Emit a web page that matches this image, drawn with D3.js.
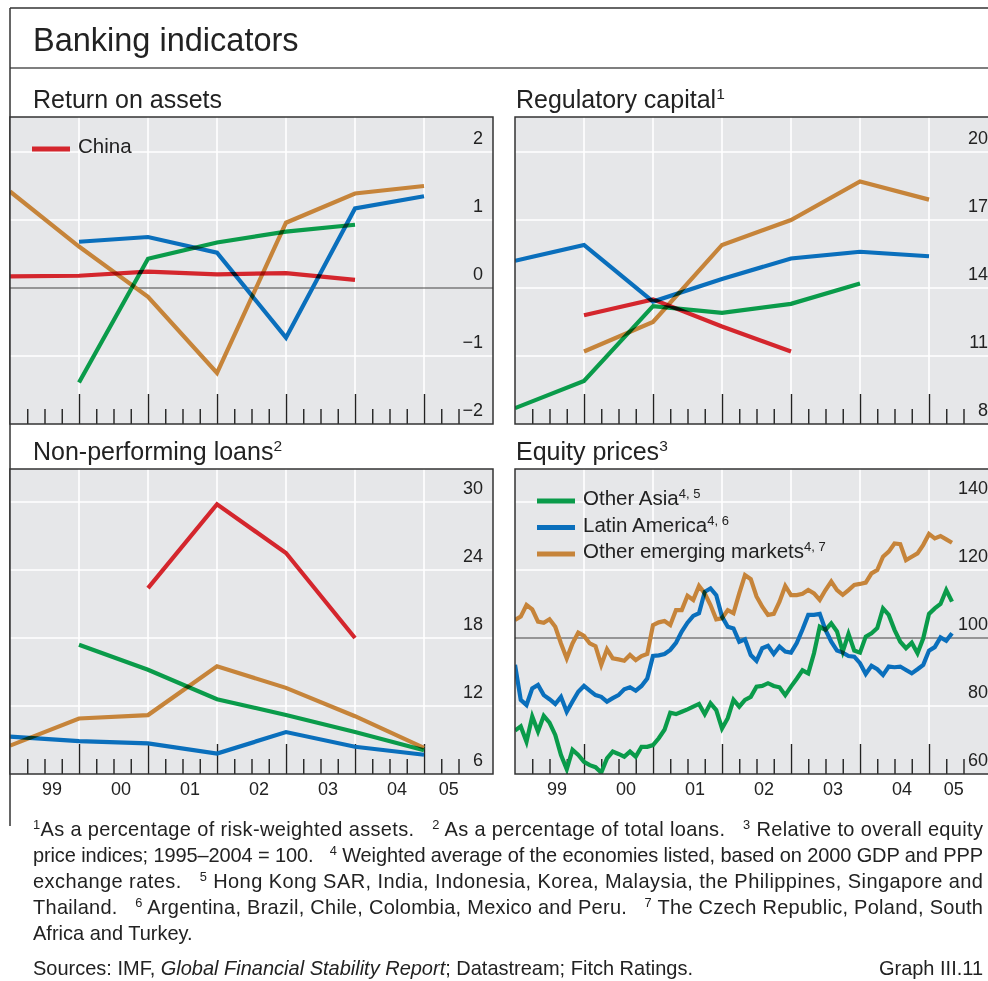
<!DOCTYPE html>
<html>
<head>
<meta charset="utf-8">
<title>Banking indicators</title>
<script src="https://cdn.jsdelivr.net/npm/d3@7"></script>
<style>
  body { margin: 0; background: #fff; }
  svg { display: block; font-family: "Liberation Sans", Arial, sans-serif; fill: #222; }
  .foot { font-family: "Liberation Sans", Arial, sans-serif; font-size: 21px; white-space: pre; }
  .series { fill: none; stroke-width: 4.2; mix-blend-mode: multiply; }
</style>
</head>
<body>
<script>
// annual figures, end of year, 1998-2004
var years = [1998, 1999, 2000, 2001, 2002, 2003, 2004];

var roaChina     = [0.17, 0.18, 0.24, 0.20, 0.22, 0.12, null];
var roaOtherEM   = [1.42, 0.61, -0.13, -1.25, 0.96, 1.39, 1.50];
var roaLatAm     = [null, 0.68, 0.75, 0.52, -0.73, 1.17, 1.35];
var roaOtherAsia = [null, -1.39, 0.43, 0.67, 0.83, 0.93, null];

var capChina     = [null, 12.8, 13.5, 12.3, 11.2, null, null];
var capOtherEM   = [null, 11.2, 12.5, 15.9, 17.0, 18.7, 17.9];
var capLatAm     = [15.2, 15.9, 13.4, 14.4, 15.3, 15.6, 15.4];
var capOtherAsia = [8.7, 9.9, 13.2, 12.9, 13.3, 14.2, null];

var nplChina     = [null, null, 22.4, 29.8, 25.5, 18.0, null];
var nplOtherAsia = [null, 17.4, 15.2, 12.6, 11.2, 9.7, 8.1];
var nplOtherEM   = [8.5, 10.9, 11.2, 15.5, 13.6, 11.1, 8.3];
var nplLatAm     = [9.3, 8.9, 8.7, 7.8, 9.7, 8.4, 7.7];

// monthly equity prices, Dec 1998 - Apr 2005
var equityStart = new Date(1998, 11, 1);
var eqOtherAsia = [72.8, 74.0, 69.5, 76.9, 72.5, 77.1, 75.1, 71.5, 65.6, 61.4,
                   67.1, 65.6, 63.6, 62.6, 62.0, 60.4, 64.6, 66.6, 65.9, 65.1,
                   66.6, 65.1, 68.0, 68.0, 68.5, 70.5, 73.0, 78.0, 77.6, 78.3,
                   79.0, 79.8, 80.6, 77.6, 80.8, 78.8, 73.4, 76.4, 81.8, 79.8,
                   81.8, 82.7, 85.7, 85.9, 86.7, 85.9, 85.5, 83.2, 85.7, 88.0,
                   90.5, 89.6, 95.5, 103.3, 102.4, 104.3, 101.9, 96.0, 101.2, 96.3,
                   95.7, 100.4, 101.4, 102.9, 108.7, 106.8, 102.4, 98.9, 97.0, 98.6,
                   95.5, 99.9, 107.1, 108.7, 110.0, 114.1, 110.7];
var eqLatAm     = [92.1, 81.8, 80.3, 85.2, 86.2, 83.2, 82.0, 80.6, 82.7, 78.3,
                   81.3, 84.2, 85.9, 84.5, 83.2, 82.7, 81.3, 82.3, 83.2, 84.9,
                   85.5, 84.5, 85.9, 88.1, 94.7, 94.9, 95.3, 96.5, 98.6, 101.9,
                   104.5, 106.5, 107.3, 113.6, 114.6, 112.6, 106.3, 103.3, 102.8, 98.9,
                   99.6, 95.0, 93.3, 97.0, 97.7, 95.3, 97.5, 96.0, 95.7, 98.5,
                   102.5, 106.8, 106.8, 107.1, 102.4, 98.9, 96.3, 95.7, 94.7, 94.5,
                   92.6, 89.4, 91.8, 90.8, 89.1, 91.6, 91.4, 91.6, 90.6, 89.6,
                   90.8, 92.1, 96.3, 97.3, 100.2, 99.2, 101.4];
var eqOtherEM   = [105.3, 106.3, 109.7, 108.4, 104.8, 104.5, 105.5, 103.3, 98.4, 94.0,
                   98.4, 101.6, 100.6, 98.4, 97.6, 92.1, 96.7, 94.0, 93.7, 93.3,
                   95.0, 93.5, 94.7, 95.3, 103.8, 104.6, 105.0, 103.8, 108.2, 108.2,
                   112.4, 111.2, 115.3, 113.1, 109.7, 105.5, 105.8, 108.2, 107.3, 113.1,
                   118.5, 117.3, 112.2, 109.2, 106.8, 107.1, 110.7, 115.3, 112.6, 112.6,
                   113.0, 114.1, 113.1, 111.2, 114.1, 116.6, 114.1, 112.7, 114.1, 115.6,
                   115.9, 116.3, 119.0, 120.0, 123.9, 125.4, 127.8, 127.6, 122.9, 123.9,
                   124.9, 127.4, 130.6, 129.3, 130.0, 129.0, 128.0];

var roaTicks = [-2, -1, 0, 1, 2];
var capTicks = [8, 11, 14, 17, 20];
var nplTicks = [6, 12, 18, 24, 30];
var eqTicks  = [60, 80, 100, 120, 140];
var yearLabels = [1999, 2000, 2001, 2002, 2003, 2004, 2005];

var colors = { china: '#d4262d', otherAsia: '#0a9b4a', latAm: '#0a6fbc', otherEM: '#c6843a' };

function annual(vals) {
  return years.map(function(y, i) { return { t: y + 1, v: vals[i] }; });
}
function monthly(vals) {
  return vals.map(function(v, i) {
    var d = d3.timeMonth.offset(equityStart, i);
    return { t: d.getFullYear() + (d.getMonth() + 1) / 12, v: v };
  });
}

var W = 988, H = 981;
var svg = d3.select('body').append('svg').attr('width', W).attr('height', H);

// frame
svg.append('line').attr('x1', 10).attr('x2', W).attr('y1', 8).attr('y2', 8).attr('stroke', '#333').attr('stroke-width', 1.5);
svg.append('line').attr('x1', 10).attr('x2', W).attr('y1', 68).attr('y2', 68).attr('stroke', '#555').attr('stroke-width', 1.3);
svg.append('line').attr('x1', 10).attr('x2', 10).attr('y1', 8).attr('y2', 826).attr('stroke', '#333').attr('stroke-width', 1.5);
svg.append('text').attr('x', 33).attr('y', 51).attr('font-size', 32.5).text('Banking indicators');

var panels = [
  { title: 'Return on assets', sup: '', titleX: 33, left: 10, top: 117, bottom: 424, ticks: roaTicks, base: 0, xlabels: false,
    series: [['otherEM', annual(roaOtherEM)], ['latAm', annual(roaLatAm)], ['otherAsia', annual(roaOtherAsia)], ['china', annual(roaChina)]],
    legend: [['china', 'China', '']] },
  { title: 'Regulatory capital', sup: '1', titleX: 516, left: 515, top: 117, bottom: 424, ticks: capTicks, base: null, xlabels: false,
    series: [['otherEM', annual(capOtherEM)], ['latAm', annual(capLatAm)], ['otherAsia', annual(capOtherAsia)], ['china', annual(capChina)]],
    legend: [] },
  { title: 'Non-performing loans', sup: '2', titleX: 33, left: 10, top: 469, bottom: 774, ticks: nplTicks, base: null, xlabels: true,
    series: [['otherEM', annual(nplOtherEM)], ['latAm', annual(nplLatAm)], ['otherAsia', annual(nplOtherAsia)], ['china', annual(nplChina)]],
    legend: [] },
  { title: 'Equity prices', sup: '3', titleX: 516, left: 515, top: 469, bottom: 774, ticks: eqTicks, base: 100, xlabels: true,
    series: [['otherEM', monthly(eqOtherEM)], ['latAm', monthly(eqLatAm)], ['otherAsia', monthly(eqOtherAsia)]],
    legend: [['otherAsia', 'Other Asia', '4, 5'], ['latAm', 'Latin America', '4, 6'], ['otherEM', 'Other emerging markets', '4, 7']] }
];

panels.forEach(function(p, pi) {
  var pw = 483;
  var x = d3.scaleLinear().domain([1999, 2006]).range([p.left, p.left + pw]);
  var y = d3.scaleLinear().domain([p.ticks[0], p.ticks[p.ticks.length - 1]]).range([p.bottom, p.bottom - 272]);
  var g = svg.append('g');

  svg.append('text').attr('x', p.titleX).attr('y', p.top - 9).attr('font-size', 25)
    .text(p.title).append('tspan').attr('font-size', 15.5).attr('dy', -9).text(p.sup);

  var clipId = 'clip' + pi;
  g.append('clipPath').attr('id', clipId).append('rect')
    .attr('x', p.left).attr('y', p.top).attr('width', pw).attr('height', p.bottom - p.top);

  g.append('rect').attr('x', p.left).attr('y', p.top).attr('width', pw).attr('height', p.bottom - p.top)
    .attr('fill', '#e6e7e9');

  // grid
  g.selectAll('.vgrid').data(d3.range(2000, 2006)).enter().append('line')
    .attr('x1', function(d) { return x(d); }).attr('x2', function(d) { return x(d); })
    .attr('y1', p.top).attr('y2', p.bottom).attr('stroke', '#fff').attr('stroke-width', 1.6);
  g.selectAll('.hgrid').data(p.ticks.slice(1).filter(function(t) { return t !== p.base; })).enter().append('line')
    .attr('x1', p.left).attr('x2', p.left + pw)
    .attr('y1', function(d) { return y(d); }).attr('y2', function(d) { return y(d); })
    .attr('stroke', '#fff').attr('stroke-width', 1.6);
  if (p.base !== null) {
    g.append('line').attr('x1', p.left).attr('x2', p.left + pw).attr('y1', y(p.base)).attr('y2', y(p.base))
      .attr('stroke', '#444').attr('stroke-width', 1.2);
  }

  // quarterly and yearly ticks along the bottom edge
  var minor = d3.range(1999.25, 2005.6, 0.25).filter(function(t) { return t % 1 !== 0; });
  g.append('g').attr('transform', 'translate(0,' + p.bottom + ')')
    .call(d3.axisBottom(x).tickValues(minor).tickSize(-15).tickFormat(''))
    .call(function(a) { a.select('.domain').remove(); a.selectAll('line').attr('stroke', '#222').attr('stroke-width', 1.4); });
  g.append('g').attr('transform', 'translate(0,' + p.bottom + ')')
    .call(d3.axisBottom(x).tickValues(d3.range(2000, 2006)).tickSize(-30).tickFormat(''))
    .call(function(a) { a.select('.domain').remove(); a.selectAll('line').attr('stroke', '#222').attr('stroke-width', 1.4); });

  // series
  var line = d3.line().defined(function(d) { return d.v !== null; })
    .x(function(d) { return x(d.t); }).y(function(d) { return y(d.v); });
  g.append('g').attr('clip-path', 'url(#' + clipId + ')').selectAll('path').data(p.series).enter().append('path')
    .attr('class', 'series')
    .attr('stroke', function(d) { return colors[d[0]]; })
    .attr('d', function(d) { return line(d[1]); });

  // legend
  var lg = g.selectAll('.legend').data(p.legend).enter().append('g')
    .attr('transform', function(d, i) { return 'translate(' + (p.left + 22) + ',' + (p.top + 32 + i * 26.5) + ')'; });
  lg.append('line').attr('x1', 0).attr('x2', 38).attr('stroke', function(d) { return colors[d[0]]; }).attr('stroke-width', 5);
  var lt = lg.append('text').attr('x', 46).attr('y', 4).attr('font-size', 20.5).text(function(d) { return d[1]; });
  lt.append('tspan').attr('font-size', 13).attr('dy', -7).text(function(d) { return d[2]; });

  // value labels sit above their grid lines, right side
  g.append('g').attr('transform', 'translate(' + (p.left + pw - 10) + ',0)')
    .call(d3.axisLeft(y).tickValues(p.ticks).tickSize(0).tickPadding(0).tickFormat(d3.format('d')))
    .call(function(a) {
      a.select('.domain').remove();
      a.selectAll('text').attr('dy', -8.5).attr('font-size', 18).attr('font-family', null).attr('fill', '#222');
    });

  // border
  g.append('rect').attr('x', p.left).attr('y', p.top).attr('width', pw).attr('height', p.bottom - p.top)
    .attr('fill', 'none').attr('stroke', '#333').attr('stroke-width', 1.5);

  if (p.xlabels) {
    g.append('g').attr('transform', 'translate(0,' + p.bottom + ')')
      .call(d3.axisBottom(x)
        .tickValues(yearLabels.map(function(yr) { return yr < 2005 ? yr + 0.6 : yr + 0.35; }))
        .tickSize(0).tickPadding(4)
        .tickFormat(function(d) { return d3.format('02d')(Math.floor(d) % 100); }))
      .call(function(a) {
        a.select('.domain').remove();
        a.selectAll('text').attr('dy', '0.95em').attr('font-size', 18).attr('font-family', null).attr('fill', '#222');
      });
  }
});

// footnotes (condensed by a horizontal scale, justified lines stretched to the full width)
var footLines = [
  [['1', 1], ['As a percentage of risk-weighted assets.   ', 0], ['2', 1], [' As a percentage of total loans.   ', 0], ['3', 1], [' Relative to overall equity', 0]],
  [['price indices; 1995\u20132004 = 100.   ', 0], ['4', 1], [' Weighted average of the economies listed, based on 2000 GDP and PPP', 0]],
  [['exchange rates.   ', 0], ['5', 1], [' Hong Kong SAR, India, Indonesia, Korea, Malaysia, the Philippines, Singapore and', 0]],
  [['Thailand.   ', 0], ['6', 1], [' Argentina, Brazil, Chile, Colombia, Mexico and Peru.   ', 0], ['7', 1], [' The Czech Republic, Poland, South', 0]],
  [['Africa and Turkey.', 0]]
];

function addSegments(t, segs) {
  segs.forEach(function(s, i) {
    var prevSup = i > 0 && segs[i - 1][1] === 1;
    var ts = t.append('tspan').text(s[0]);
    if (s[1] === 1) ts.attr('font-size', 13.5).attr('dy', -7.5);
    else if (prevSup) ts.attr('dy', 7.5);
    if (s[2]) ts.attr('font-style', 'italic');
  });
}

function footText(anchor) {
  return svg.append('text').attr('class', 'foot').attr('x', 0).attr('y', 0)
    .attr('text-anchor', anchor).attr('xml:space', 'preserve');
}

var src = footText('start');
addSegments(src, [['Sources: IMF, ', 0], ['Global Financial Stability Report', 0, 1], ['; Datastream; Fitch Ratings.', 0]]);
var squeeze = 660 / src.node().getComputedTextLength();
src.attr('transform', 'translate(33,975) scale(' + squeeze + ',1)');

footLines.forEach(function(segs, i) {
  var t = footText('start');
  addSegments(t, segs);
  t.attr('transform', 'translate(33,' + (836 + i * 26) + ') scale(' + squeeze + ',1)');
  if (i < footLines.length - 1) {
    t.attr('textLength', 950 / squeeze).attr('lengthAdjust', 'spacing');
  }
});

var gr = footText('end').text('Graph III.11');
gr.attr('transform', 'translate(983,975) scale(' + squeeze + ',1)');
</script>
</body>
</html>
